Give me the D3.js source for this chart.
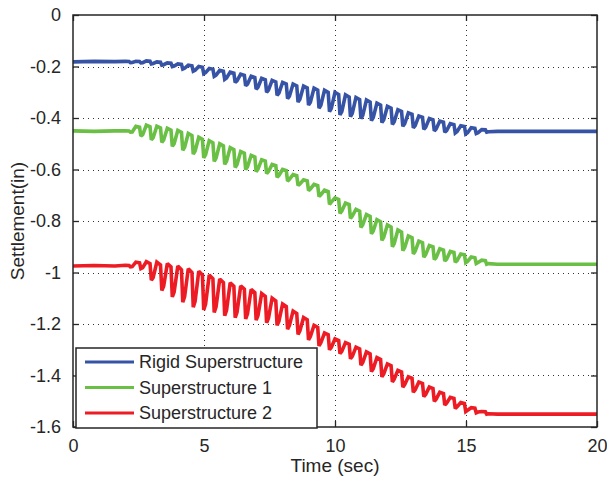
<!DOCTYPE html>
<html>
<head>
<meta charset="utf-8">
<script src="https://cdn.jsdelivr.net/npm/d3@7"></script>
<style>
  html, body { margin: 0; padding: 0; background: #fff; }
  svg { display: block; }
  text { font-family: Arial, "Liberation Sans", sans-serif; fill: #262626; }
</style>
</head>
<body>
<svg id="chart" width="607" height="479"></svg>
<script>
// Axis ticks
const xTicks = [0, 5, 10, 15, 20];
const yTicks = [0, -0.2, -0.4, -0.6, -0.8, -1, -1.2, -1.4, -1.6];

// Times (sec) at which each oscillation cycle begins
const cycleTimes = [2.0, 2.4, 2.8, 3.2, 3.6, 4.0, 4.4, 4.8, 5.2, 5.6, 6.0, 6.4, 6.8, 7.2, 7.6,
  8.0, 8.4, 8.8, 9.2, 9.6, 10.0, 10.4, 10.8, 11.2, 11.6, 12.0, 12.4, 12.8, 13.2, 13.6,
  14.0, 14.4, 14.8, 15.2, 15.6];

// Rigid Superstructure: settlement (in) at rest, cycle crests, cycle troughs, final
const rigidStart = [[0, -0.182], [0.8, -0.180], [1.6, -0.181]];
const rigidTop = [-0.180, -0.180, -0.178, -0.182, -0.186, -0.190, -0.195, -0.200, -0.208, -0.215,
  -0.222, -0.230, -0.238, -0.246, -0.254, -0.262, -0.268, -0.276, -0.284, -0.292,
  -0.300, -0.310, -0.320, -0.330, -0.342, -0.355, -0.368, -0.380, -0.392, -0.402,
  -0.412, -0.422, -0.430, -0.438, -0.445];
const rigidBottom = [-0.185, -0.186, -0.190, -0.195, -0.200, -0.210, -0.218, -0.228, -0.238, -0.250,
  -0.262, -0.275, -0.288, -0.300, -0.312, -0.325, -0.338, -0.350, -0.362, -0.375,
  -0.388, -0.395, -0.402, -0.410, -0.418, -0.425, -0.432, -0.438, -0.444, -0.450,
  -0.455, -0.458, -0.462, -0.460, -0.455];
const rigidEnd = [[16.2, -0.452], [20, -0.452]];

// Superstructure 1
const s1Start = [[0, -0.450], [0.8, -0.452], [1.6, -0.450]];
const s1Top = [-0.450, -0.432, -0.428, -0.432, -0.440, -0.448, -0.460, -0.475, -0.488, -0.500,
  -0.515, -0.530, -0.545, -0.562, -0.580, -0.600, -0.620, -0.640, -0.658, -0.680,
  -0.710, -0.730, -0.755, -0.775, -0.795, -0.815, -0.835, -0.858, -0.878, -0.895,
  -0.908, -0.918, -0.928, -0.940, -0.952];
const s1Bottom = [-0.455, -0.470, -0.485, -0.495, -0.510, -0.525, -0.540, -0.555, -0.568, -0.580,
  -0.592, -0.600, -0.608, -0.616, -0.630, -0.645, -0.662, -0.682, -0.705, -0.735,
  -0.770, -0.790, -0.825, -0.850, -0.875, -0.900, -0.915, -0.928, -0.940, -0.950,
  -0.955, -0.960, -0.962, -0.965, -0.968];
const s1End = [[16.2, -0.968], [20, -0.968]];

// Superstructure 2
const s2Start = [[0, -0.975], [0.8, -0.973], [1.6, -0.975]];
const s2Top = [-0.972, -0.960, -0.958, -0.960, -0.965, -0.975, -0.985, -0.995, -1.010, -1.025,
  -1.040, -1.052, -1.066, -1.082, -1.100, -1.122, -1.150, -1.175, -1.205, -1.235,
  -1.258, -1.272, -1.290, -1.308, -1.330, -1.355, -1.380, -1.405, -1.425, -1.445,
  -1.465, -1.485, -1.505, -1.525, -1.540];
const s2Bottom = [-0.978, -0.985, -1.030, -1.070, -1.095, -1.115, -1.135, -1.145, -1.155, -1.168,
  -1.175, -1.180, -1.185, -1.195, -1.205, -1.220, -1.240, -1.262, -1.285, -1.300,
  -1.315, -1.335, -1.360, -1.385, -1.405, -1.425, -1.445, -1.465, -1.482, -1.500,
  -1.515, -1.528, -1.540, -1.545, -1.550];
const s2End = [[16.2, -1.550], [20, -1.550]];

const seriesNames = ["Rigid Superstructure", "Superstructure 1", "Superstructure 2"];
const seriesColors = ["#3653a6", "#6abf45", "#ed1c24"];

// ---- layout ----
const margin = { left: 73, top: 15, right: 10, bottom: 52 };
const W = 607, H = 479;
const plotW = W - margin.left - margin.right;   // 524
const plotH = H - margin.top - margin.bottom;   // 412

const svg = d3.select("#chart");
svg.append("rect").attr("width", W).attr("height", H).attr("fill", "#fff");

const x = d3.scaleLinear().domain([0, 20]).range([margin.left, margin.left + plotW]);
const y = d3.scaleLinear().domain([-1.6, 0]).range([margin.top + plotH, margin.top]);

// Each cycle: crest held briefly, sharp drop to the trough, short hold, then recovery
function buildPath(start, tops, bottoms, end) {
  const pts = start.slice();
  cycleTimes.forEach((t, i) => {
    const a = tops[i], b = bottoms[i];
    pts.push([t, a]);
    pts.push([t + 0.14, a + (b - a) * 0.1]);
    pts.push([t + 0.19, b]);
    pts.push([t + 0.26, b + (a - b) * 0.15]);
  });
  return pts.concat(end);
}

const series = [
  buildPath(rigidStart, rigidTop, rigidBottom, rigidEnd),
  buildPath(s1Start, s1Top, s1Bottom, s1End),
  buildPath(s2Start, s2Top, s2Bottom, s2End)
];

// ---- grid ----
const grid = svg.append("g").attr("stroke", "#333").attr("stroke-width", 1)
  .attr("stroke-dasharray", "1,4").attr("shape-rendering", "crispEdges");
xTicks.slice(1, -1).forEach(v => {
  grid.append("line").attr("x1", Math.round(x(v)) + 0.5).attr("x2", Math.round(x(v)) + 0.5)
    .attr("y1", margin.top).attr("y2", margin.top + plotH);
});
yTicks.slice(1, -1).forEach(v => {
  grid.append("line").attr("y1", Math.round(y(v)) + 0.5).attr("y2", Math.round(y(v)) + 0.5)
    .attr("x1", margin.left).attr("x2", margin.left + plotW);
});

// ---- data lines ----
const line = d3.line().x(d => x(d[0])).y(d => y(d[1]));
svg.append("clipPath").attr("id", "plotclip").append("rect")
  .attr("x", margin.left).attr("y", margin.top).attr("width", plotW).attr("height", plotH);
const lines = svg.append("g").attr("clip-path", "url(#plotclip)");
series.forEach((pts, i) => {
  lines.append("path").datum(pts).attr("d", line)
    .attr("fill", "none").attr("stroke", seriesColors[i])
    .attr("stroke-width", 3.6).attr("stroke-linejoin", "miter").attr("stroke-miterlimit", 2);
});

// ---- axes (box with inward ticks) ----
const tickLen = 6;
const axisColor = "#262626";
const axisFont = 18;

const axBottom = d3.axisBottom(x).tickValues(xTicks).tickSizeInner(-tickLen).tickSizeOuter(0).tickPadding(12);
const axTop = d3.axisTop(x).tickValues(xTicks).tickSizeInner(-tickLen).tickSizeOuter(0).tickFormat("");
const axLeft = d3.axisLeft(y).tickValues(yTicks).tickSizeInner(-tickLen).tickSizeOuter(0).tickPadding(12)
  .tickFormat(d => String(+d.toFixed(1)));
const axRight = d3.axisRight(y).tickValues(yTicks).tickSizeInner(-tickLen).tickSizeOuter(0).tickFormat("");

function styleAxis(g) {
  g.select(".domain").remove();
  g.selectAll(".tick line").attr("stroke", axisColor).attr("stroke-width", 1.3);
  g.selectAll(".tick text").attr("font-size", axisFont).attr("fill", "#262626")
    .style("font-family", "Arial, 'Liberation Sans', sans-serif");
}

svg.append("g").attr("transform", `translate(0,${margin.top + plotH})`).call(axBottom).call(styleAxis);
svg.append("g").attr("transform", `translate(0,${margin.top})`).call(axTop).call(styleAxis);
svg.append("g").attr("transform", `translate(${margin.left},0)`).call(axLeft).call(styleAxis);
svg.append("g").attr("transform", `translate(${margin.left + plotW},0)`).call(axRight).call(styleAxis);

svg.append("rect").attr("x", margin.left).attr("y", margin.top)
  .attr("width", plotW).attr("height", plotH)
  .attr("fill", "none").attr("stroke", axisColor).attr("stroke-width", 1.5);

// axis titles
svg.append("text").attr("x", margin.left + plotW / 2).attr("y", 472)
  .attr("text-anchor", "middle").attr("font-size", 19).text("Time (sec)");
svg.append("text").attr("transform", `translate(24,${margin.top + plotH / 2}) rotate(-90)`)
  .attr("text-anchor", "middle").attr("font-size", 19).text("Settlement(in)");

// ---- legend ----
const lg = svg.append("g").attr("transform", "translate(76,348)");
lg.append("rect").attr("width", 241).attr("height", 80)
  .attr("fill", "#fff").attr("stroke", axisColor).attr("stroke-width", 1.5);
seriesNames.forEach((name, i) => {
  const cy = 14 + i * 25.5;
  lg.append("line").attr("x1", 9).attr("x2", 58).attr("y1", cy).attr("y2", cy)
    .attr("stroke", seriesColors[i]).attr("stroke-width", 3);
  lg.append("text").attr("x", 63).attr("y", cy).attr("dy", "0.36em")
    .attr("font-size", 18).text(name);
});
</script>
</body>
</html>
